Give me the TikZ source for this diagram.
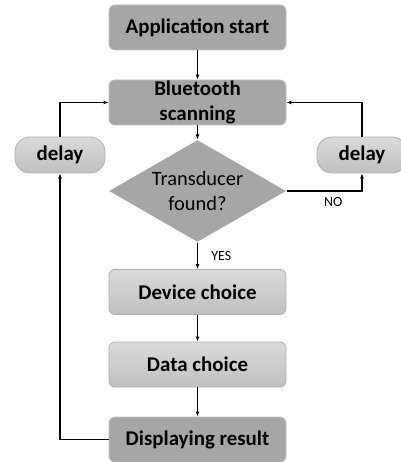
\documentclass[tikz,border=0pt]{standalone}
\usepackage{fontspec}
\setmainfont{Carlito}
\usetikzlibrary{shapes.geometric,arrows.meta}
\definecolor{darkbox}{RGB}{166,166,166}
\definecolor{darkedge}{RGB}{190,190,190}
\definecolor{lighttop}{RGB}{218,218,218}
\definecolor{lightbot}{RGB}{192,192,192}
\definecolor{lightedge}{RGB}{175,175,175}
\begin{document}
\begin{tikzpicture}[x=1bp,y=-1bp,line width=1.1bp,>={Latex[length=5bp,width=4bp]},stepbox/.style={shape=rectangle,rounded corners=6bp,line width=0.8bp,minimum width=177bp,minimum height=45bp,inner sep=0pt,align=center,font=\fontsize{21}{25}\selectfont\bfseries},stepD/.style={stepbox,fill=darkbox,draw=darkedge},stepL/.style={stepbox,top color=lighttop,bottom color=lightbot,draw=lightedge},delayb/.style={shape=rectangle,rounded corners=15bp,line width=0.8bp,minimum width=90bp,minimum height=36bp,inner sep=0pt,top color=lighttop,bottom color=lightbot,draw=lightedge,font=\fontsize{21}{25}\selectfont\bfseries},test/.style={shape=diamond,aspect=1.74,minimum width=177bp,minimum height=102bp,inner sep=0pt,align=center,fill=darkbox,font=\fontsize{20.5}{25}\selectfont},lbl/.style={font=\fontsize{14}{16}\selectfont}]
\def\cx{197.5};
\def\dl{60};
\def\dr{362};
\useasboundingbox (0,0) rectangle (400,462);

\node[stepD] (start) at (\cx,27.5) {Application start};
\node[stepD] (scan) at (\cx,102.5) {Bluetooth\\scanning};
\node[test] (found) at (\cx,191) {Transducer\\found?};
\node[stepL] (device) at (\cx,292) {Device choice};
\node[stepL] (data) at (\cx,364.5) {Data choice};
\node[stepD] (show) at (\cx,439.5) {Displaying result};

\node[delayb] (delL) at (\dl,155) {delay};
\node[delayb] (delR) at (\dr,155) {delay};

\draw[->] (start.south) -- (scan.north);
\draw[->] (scan.south) -- (found.north);
\draw[->] (found.south) -- node[lbl,right=10bp] {YES} (device.north);
\draw[->] (device.south) -- (data.north);
\draw[->] (data.south) -- (show.north);

\draw[->] (found.east) -| node[lbl,pos=0.31,below=3bp] {NO} (delR.south);
\draw[->] (delR.north) |- (scan.east);
\draw[->] (show.west) -| (delL.south);
\draw[->] (delL.north) |- (scan.west);
\end{tikzpicture}
\end{document}
